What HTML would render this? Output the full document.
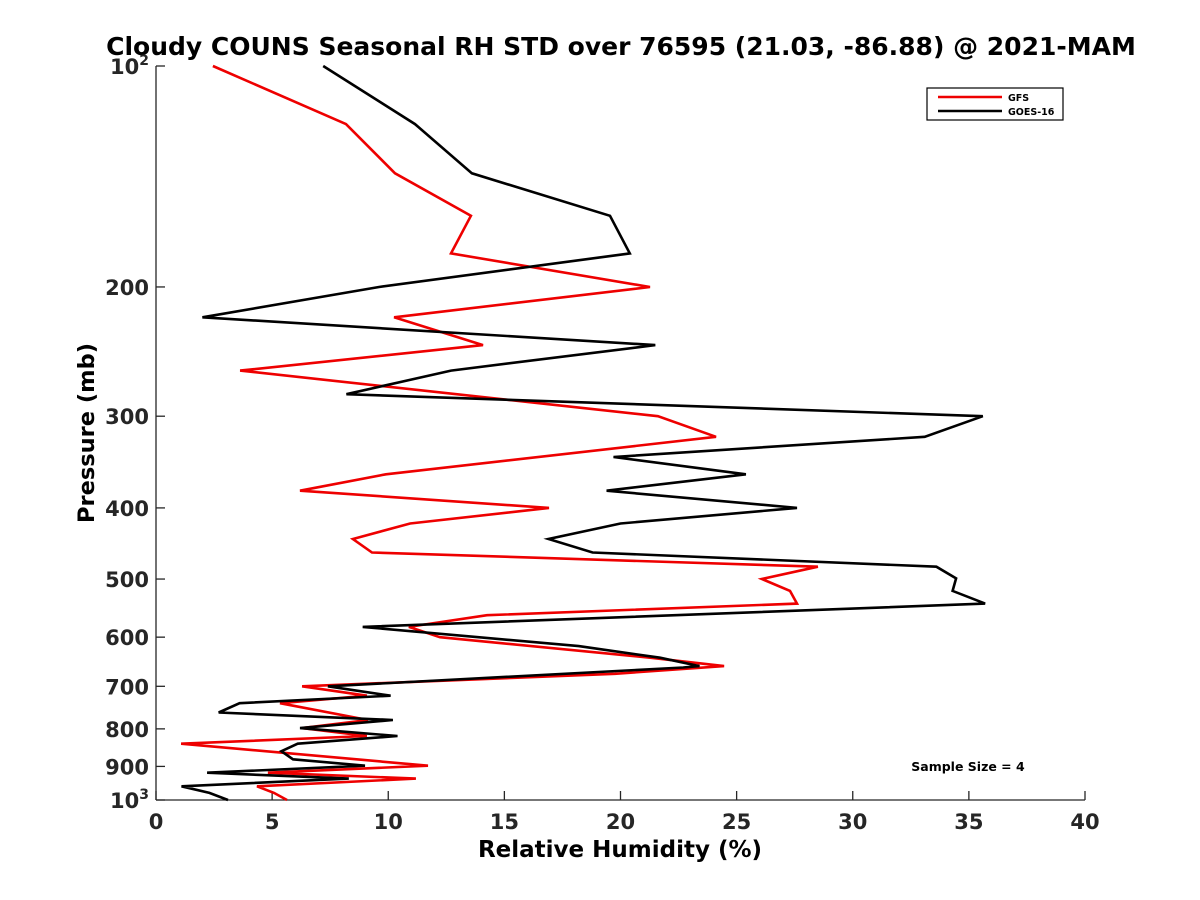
<!DOCTYPE html>
<html><head><meta charset="utf-8"><style>
html,body{margin:0;padding:0;background:#fff;}
svg{display:block;font-family:"DejaVu Sans","Liberation Sans",sans-serif;font-weight:bold;}
</style></head><body>
<svg id="chart" width="1200" height="900">
<text x="621" y="55" font-size="25" text-anchor="middle">Cloudy COUNS Seasonal RH STD over 76595 (21.03, -86.88) @ 2021-MAM</text>
<g id="axes"></g>
<g id="series"></g>
<text x="620" y="857" font-size="23" text-anchor="middle">Relative Humidity (%)</text>
<text transform="translate(94,433) rotate(-90)" font-size="22.5" text-anchor="middle">Pressure (mb)</text>
<g>
<rect x="927" y="88" width="136" height="32" fill="#fff" stroke="#000" stroke-width="1.2"/>
<line x1="938" y1="97" x2="1002" y2="97" stroke="#e00" stroke-width="2.5"/>
<text x="1008" y="101" font-size="9.5">GFS</text>
<line x1="938" y1="111" x2="1002" y2="111" stroke="#000" stroke-width="2.5"/>
<text x="1008" y="115" font-size="9.5">GOES-16</text>
</g>
<text x="968" y="771" font-size="12.5" text-anchor="middle">Sample Size = 4</text>
</svg>
<script>
const xTicks = [0,5,10,15,20,25,30,35,40];
const yTicks = [100,200,300,400,500,600,700,800,900,1000];
const gfsP = [100,120,140,160,180,200,220,240,260,300,320,360,379,400,420,441,460,481,500,519,540,560,581,600,640,657,673,700,721,738,778,798,818,838,898,918,935,958,978,1000];
const gfsRH = [2.45,8.18,10.29,13.56,12.70,21.27,10.25,14.08,3.62,21.61,24.11,9.9,6.2,16.92,10.94,8.48,9.30,28.5,26.09,27.3,27.6,14.25,10.89,12.23,21.27,24.46,19.76,6.29,9.08,5.34,9.13,6.29,9.08,1.08,11.71,4.82,11.19,4.35,5.08,5.64];
const goesP = [100,120,140,160,180,200,220,240,260,280,300,320,341,360,379,400,420,441,460,481,499,519,540,581,617,640,657,660,700,721,738,760,778,798,818,838,858,880,898,918,935,958,978,1000];
const goesRH = [7.2,11.15,13.6,19.55,20.4,9.6,2.0,21.5,12.7,8.2,35.6,33.1,19.7,25.4,19.4,27.6,20.0,16.9,18.8,33.6,34.45,34.3,35.7,8.9,18.2,21.7,23.4,22.7,7.4,10.1,3.6,2.7,10.2,6.2,10.4,6.1,5.4,5.9,9.0,2.2,8.3,1.1,2.3,3.1];

const X0=156,X1=1085,Y0=66,Y1=800;
const sx=v=>X0+(v-0)/(40-0)*(X1-X0);
const sy=p=>Y0+Math.log10(p/100)*(Y1-Y0);
const NS='http://www.w3.org/2000/svg';
function mk(tag,attrs,parent){const e=document.createElementNS(NS,tag);for(const k in attrs)e.setAttribute(k,attrs[k]);parent.appendChild(e);return e;}
const ax=document.getElementById('axes');
let l=mk('line',{x1:X0,y1:Y0,x2:X0,y2:Y1,stroke:'#262626','stroke-width':1.3},ax);


l=mk('line',{x1:X0,y1:Y1,x2:X1,y2:Y1,stroke:'#262626','stroke-width':1.3},ax);


xTicks.forEach(v=>{
  const x=sx(v);
  const t=mk('line',{x1:x,y1:Y1,x2:x,y2:Y1-9,stroke:'#262626','stroke-width':1.3},ax);
  
  
  const tx=mk('text',{x:x,y:Y1+29,'font-size':21,'text-anchor':'middle',fill:'#262626'},ax);
  tx.textContent=v;
  
  
});
yTicks.forEach(p=>{
  const y=sy(p);
  const t=mk('line',{x1:X0,y1:y,x2:X0+9,y2:y,stroke:'#262626','stroke-width':1.3},ax);
  
  
  const tx=mk('text',{x:X0-7,y:y+8,'font-size':21,'text-anchor':'end',fill:'#262626'},ax);
  if(p===100){tx.innerHTML='10<tspan dy="-9" font-size="14">2</tspan>';}
  else if(p===1000){tx.innerHTML='10<tspan dy="-9" font-size="14">3</tspan>';}
  else tx.textContent=p;
  
  
});
const sg=document.getElementById('series');
function draw(P,V,color,name){
  const pts=P.map((p,i)=>sx(V[i]).toFixed(1)+','+sy(p).toFixed(1)).join(' ');
  const pl=mk('polyline',{points:pts,fill:'none',stroke:color,'stroke-width':2.6,'stroke-linejoin':'miter'},sg);
  
  
}
draw(gfsP,gfsRH,'#e00','gfs-line');
draw(goesP,goesRH,'#000','goes16-line');
</script>
</body></html>
